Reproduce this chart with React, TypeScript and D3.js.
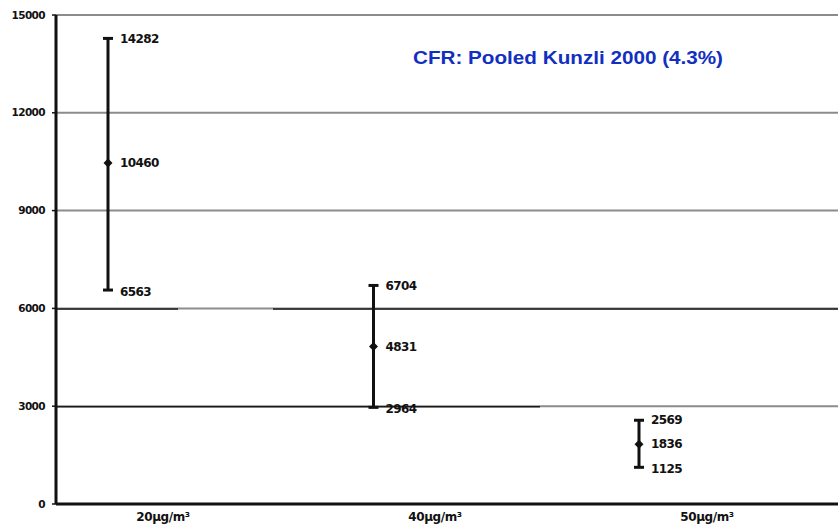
import React from 'react';
import * as d3 from 'd3';

const categories = ['20µg/m³', '40µg/m³', '50µg/m³'];
const lowValues = [6563, 2964, 1125];
const midValues = [10460, 4831, 1836];
const highValues = [14282, 6704, 2569];
const yTicks = [0, 3000, 6000, 9000, 12000, 15000];
const title = 'CFR: Pooled Kunzli 2000 (4.3%)';

const W = 838;
const H = 529;
const margin = { top: 15, right: 0, bottom: 25, left: 56 };

export default function App() {
  const y = d3
    .scaleLinear()
    .domain([0, 15000])
    .range([H - margin.bottom, margin.top]);

  // point positions of the bars and of the category labels differ a little
  const x = d3.scalePoint<string>().domain(categories).range([108, 639]);
  const xLabel = d3.scalePoint<string>().domain(categories).range([163, 707]);

  const data = categories.map((c, i) => ({
    cat: c,
    low: lowValues[i],
    mid: midValues[i],
    high: highValues[i],
  }));

  // darker stretches over some of the gridlines (as in the scanned source)
  const darkSegments = [
    { v: 6000, x1: margin.left, x2: 178 },
    { v: 6000, x1: 273, x2: W },
    { v: 3000, x1: margin.left, x2: 540 },
  ];

  const labelFont = "'DejaVu Sans', Verdana, sans-serif";
  const cap = 5;
  const dm = 4.5;

  return (
    <svg
      width={W}
      height={H}
      style={{ position: 'absolute', left: 0, top: 0, background: '#fff' }}
    >
      {/* gridlines */}
      <g>
        {yTicks
          .filter((t) => t > 0)
          .map((t) => (
            <line
              key={t}
              x1={margin.left}
              x2={W}
              y1={y(t)}
              y2={y(t)}
              stroke="#8c8c8c"
              strokeWidth={2}
            />
          ))}
        {darkSegments.map((s, i) => (
          <line
            key={i}
            x1={s.x1}
            x2={s.x2}
            y1={y(s.v) + 0.5}
            y2={y(s.v) + 0.5}
            stroke="#1a1a1a"
            strokeWidth={1.5}
          />
        ))}
      </g>

      {/* axes */}
      <line
        x1={margin.left}
        x2={margin.left}
        y1={y(15000)}
        y2={y(0)}
        stroke="#111"
        strokeWidth={3}
      />
      <line
        x1={margin.left}
        x2={W}
        y1={y(0)}
        y2={y(0)}
        stroke="#111"
        strokeWidth={3}
      />
      <g fontFamily={labelFont} fontWeight="bold" fill="#111">
        {yTicks.map((t) => (
          <g key={t}>
            <line
              x1={margin.left - 4}
              x2={margin.left}
              y1={y(t)}
              y2={y(t)}
              stroke="#111"
              strokeWidth={1.5}
            />
            <text
              x={margin.left - 11}
              y={y(t)}
              dy="0.35em"
              textAnchor="end"
              fontSize={10.5}
              letterSpacing={-0.6}
            >
              {t}
            </text>
          </g>
        ))}
        {categories.map((c) => (
          <text
            key={c}
            x={xLabel(c)}
            y={y(0) + 17}
            textAnchor="middle"
            fontSize={12}
            letterSpacing={-0.4}
          >
            {c}
          </text>
        ))}
      </g>

      {/* error bars */}
      <g stroke="#111" strokeWidth={3} fill="#111">
        {data.map((d) => {
          const cx = x(d.cat) as number;
          return (
            <g key={d.cat}>
              <line x1={cx} x2={cx} y1={y(d.high)} y2={y(d.low)} />
              <line x1={cx - cap} x2={cx + cap} y1={y(d.high)} y2={y(d.high)} />
              <line x1={cx - cap} x2={cx + cap} y1={y(d.low)} y2={y(d.low)} />
              <path
                stroke="none"
                d={`M${cx},${y(d.mid) - dm}L${cx + dm},${y(d.mid)}L${cx},${y(d.mid) + dm}L${cx - dm},${y(d.mid)}Z`}
              />
            </g>
          );
        })}
      </g>

      {/* value labels */}
      <g fontFamily={labelFont} fontWeight="bold" fontSize={12} fill="#111">
        {data.map((d) => {
          const cx = x(d.cat) as number;
          return (
            <g key={d.cat}>
              {[d.high, d.mid, d.low].map((v, k) => (
                <text
                  key={k}
                  x={cx + 12}
                  y={y(v) + (k === 2 ? 1.5 : 0)}
                  dy="0.35em"
                  letterSpacing={-0.6}
                >
                  {v}
                </text>
              ))}
            </g>
          );
        })}
      </g>

      {/* title */}
      <text
        x={413}
        y={58}
        dy="0.35em"
        fontFamily="'Liberation Sans', Arial, sans-serif"
        fontWeight="bold"
        fontSize={18}
        textLength={310}
        lengthAdjust="spacingAndGlyphs"
        fill="#1230c0"
      >
        {title}
      </text>
    </svg>
  );
}
